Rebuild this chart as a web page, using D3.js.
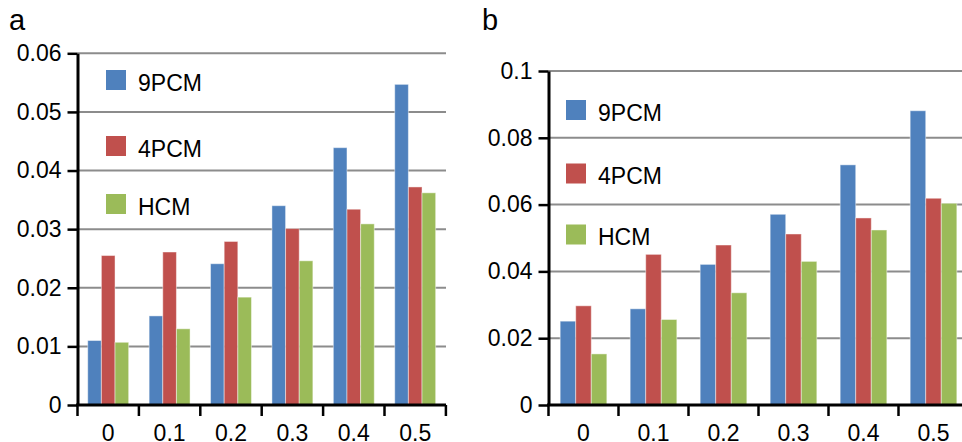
<!DOCTYPE html>
<html>
<head>
<meta charset="utf-8">
<script src="https://cdn.jsdelivr.net/npm/d3@7"></script>
<style>
  body { margin: 0; background: #fff; }
  svg { display: block; font-family: "Liberation Sans", Arial, sans-serif; }
</style>
</head>
<body>
<div id="chart"></div>
<script>
// data
var categories = ["0", "0.1", "0.2", "0.3", "0.4", "0.5"];
var seriesNames = ["9PCM", "4PCM", "HCM"];
var colors = ["#4f81bd", "#c0504d", "#9bbb59"];

// panel a
var a9PCM = [0.0110, 0.0152, 0.0241, 0.0340, 0.0439, 0.0547];
var a4PCM = [0.0255, 0.0261, 0.0279, 0.0301, 0.0334, 0.0372];
var aHCM  = [0.0107, 0.0130, 0.0184, 0.0246, 0.0309, 0.0362];
var aTicks = [0, 0.01, 0.02, 0.03, 0.04, 0.05, 0.06];

// panel b
var b9PCM = [0.0251, 0.0288, 0.0421, 0.0571, 0.0719, 0.0881];
var b4PCM = [0.0297, 0.0451, 0.0479, 0.0512, 0.0560, 0.0619];
var bHCM  = [0.0153, 0.0256, 0.0336, 0.0430, 0.0524, 0.0604];
var bTicks = [0, 0.02, 0.04, 0.06, 0.08, 0.1];

var svgWidth = 962;
var svgHeight = 442;

var svg = d3.select("#chart")
    .append("svg")
    .attr("width", svgWidth)
    .attr("height", svgHeight);

var fmt = d => String(+d.toFixed(2));

function drawPanel(opt) {
    var g = svg.append("g");

    var x0 = d3.scaleBand()
        .domain(categories)
        .range([opt.left, opt.left + opt.band * categories.length])
        .padding(0);

    var x1 = d3.scaleBand()
        .domain(seriesNames)
        .range([0, x0.bandwidth()])
        .paddingInner(0)
        .paddingOuter(0.75);

    var y = d3.scaleLinear()
        .domain([0, opt.max])
        .range([405, opt.top]);

    // gridlines
    g.selectAll(".grid")
        .data(opt.ticks.filter(d => d > 0))
        .enter()
        .append("line")
        .attr("x1", opt.left)
        .attr("x2", opt.right)
        .attr("y1", d => y(d))
        .attr("y2", d => y(d))
        .attr("stroke", "#8c8c8c")
        .attr("stroke-width", 2);

    // bars
    var rows = categories.map((c, i) => ({
        cat: c,
        vals: opt.series.map((s, j) => ({ name: seriesNames[j], v: s[i], color: colors[j] }))
    }));

    var groups = g.selectAll(".grp")
        .data(rows)
        .enter()
        .append("g")
        .attr("transform", d => `translate(${x0(d.cat)},0)`);

    groups.selectAll("rect")
        .data(d => d.vals)
        .enter()
        .append("rect")
        .attr("x", d => x1(d.name))
        .attr("y", d => y(d.v))
        .attr("width", x1.bandwidth())
        .attr("height", d => y(0) - y(d.v))
        .attr("fill", d => d.color)
        .attr("stroke", "rgba(255,255,255,0.45)")
        .attr("stroke-width", 1);

    // y axis
    var yAxis = d3.axisLeft(y)
        .tickValues(opt.ticks)
        .tickFormat(fmt)
        .tickSize(10)
        .tickSizeOuter(0)
        .tickPadding(6);

    var ya = g.append("g")
        .attr("transform", `translate(${opt.left},0)`)
        .call(yAxis);
    ya.select(".domain").attr("stroke", "#000").attr("stroke-width", 3);
    ya.selectAll(".tick line").attr("stroke", "#000").attr("stroke-width", 2.5);
    ya.selectAll(".tick text")
        .attr("font-size", 23)
        .attr("fill", "#000")
        .attr("font-family", "Liberation Sans, Arial, sans-serif");

    // x axis labels
    var xAxis = d3.axisBottom(x0)
        .tickSize(0)
        .tickPadding(20);

    var xa = g.append("g")
        .attr("transform", "translate(0,405)")
        .call(xAxis);
    xa.select(".domain").remove();
    xa.selectAll(".tick text")
        .attr("font-size", 23)
        .attr("fill", "#000")
        .attr("font-family", "Liberation Sans, Arial, sans-serif");

    // x axis line and boundary ticks
    g.append("line")
        .attr("x1", opt.left - 1.5)
        .attr("x2", opt.right)
        .attr("y1", 405)
        .attr("y2", 405)
        .attr("stroke", "#000")
        .attr("stroke-width", 3);

    var bounds = categories.map(c => x0(c)).concat([x0.range()[1]]);
    g.selectAll(".xt")
        .data(bounds)
        .enter()
        .append("line")
        .attr("x1", d => d)
        .attr("x2", d => d)
        .attr("y1", 405)
        .attr("y2", 416)
        .attr("stroke", "#000")
        .attr("stroke-width", 2.5);

    // legend
    var leg = g.selectAll(".leg")
        .data(seriesNames)
        .enter()
        .append("g")
        .attr("transform", (d, i) => `translate(${opt.legX},${opt.legY[i]})`);

    leg.append("rect")
        .attr("width", 20)
        .attr("height", 20)
        .attr("fill", (d, i) => colors[i]);

    leg.append("text")
        .attr("x", 32)
        .attr("y", 20.5)
        .attr("font-size", 23)
        .attr("fill", "#000")
        .text(d => d);

    // panel label
    g.append("text")
        .attr("x", opt.labelX)
        .attr("y", 30)
        .attr("font-size", 29)
        .attr("fill", "#000")
        .text(opt.label);
}

drawPanel({
    label: "a", labelX: 9,
    left: 77.5, right: 446, band: 61.4,
    top: 53.3, max: 0.06, ticks: aTicks,
    series: [a9PCM, a4PCM, aHCM],
    legX: 106, legY: [70, 136, 194]
});

drawPanel({
    label: "b", labelX: 482,
    left: 548.5, right: 962, band: 70,
    top: 71, max: 0.1, ticks: bTicks,
    series: [b9PCM, b4PCM, bHCM],
    legX: 566, legY: [100, 163.5, 224.5]
});
</script>
</body>
</html>
